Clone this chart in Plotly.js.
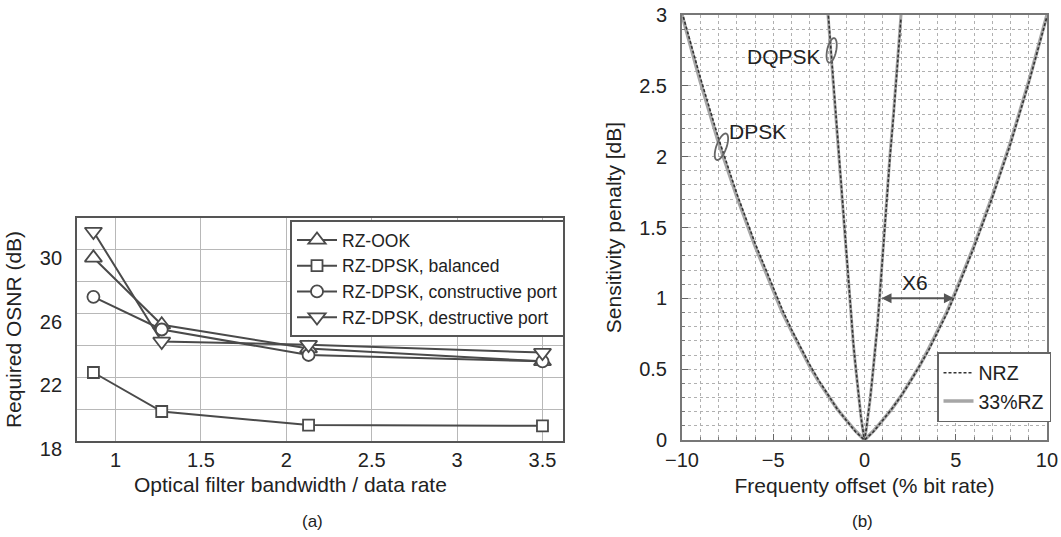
<!DOCTYPE html>
<html>
<head>
<meta charset="utf-8">
<script src="https://cdn.plot.ly/plotly-3.0.1.min.js"></script>
<style>html,body{margin:0;padding:0;background:#fff;}#chart{width:1061px;height:537px;}</style>
</head>
<body>
<div id="chart"></div>
<script>
// ---- Panel (a) data ----
const bandwidthRatio = [0.87, 1.27, 2.13, 3.5];
const rzOOK = [29.5, 25.3, 23.8, 23.0];
const rzDpskBalanced = [22.3, 19.85, 19.0, 18.95];
const rzDpskConstructive = [27.05, 25.0, 23.4, 23.0];
const rzDpskDestructive = [31.15, 24.25, 24.05, 23.55];
const seriesNamesA = ["RZ-OOK", "RZ-DPSK, balanced", "RZ-DPSK, constructive port", "RZ-DPSK, destructive port"];
const yTicksA = [18, 22, 26, 30];
const xTicksA = [1, 1.5, 2, 2.5, 3, 3.5];

// ---- Panel (b) data ----
const dpskOffset = [-10, -9, -8, -7, -6, -5, -4.5, -4, -3.5, -3, -2.5, -2, -1.5, -1, -0.5, 0, 0.5, 1, 1.5, 2, 2.5, 3, 3.5, 4, 4.5, 5, 6, 7, 8, 9, 10];
const dpskRZ = [3.0, 2.53, 2.1, 1.72, 1.37, 1.05, 0.9, 0.77, 0.64, 0.52, 0.41, 0.31, 0.22, 0.14, 0.065, 0, 0.065, 0.14, 0.22, 0.31, 0.41, 0.52, 0.64, 0.77, 0.9, 1.05, 1.37, 1.72, 2.1, 2.53, 3.0];
const dpskNRZ = [3.02, 2.56, 2.13, 1.74, 1.39, 1.07, 0.92, 0.78, 0.65, 0.53, 0.42, 0.32, 0.22, 0.14, 0.06, 0, 0.06, 0.14, 0.22, 0.31, 0.41, 0.52, 0.63, 0.76, 0.89, 1.04, 1.36, 1.71, 2.09, 2.52, 2.99];
const dqpskOffset = [-2.0, -1.8, -1.6, -1.4, -1.2, -1.0, -0.82, -0.7, -0.6, -0.5, -0.4, -0.3, -0.2, -0.1, 0, 0.1, 0.2, 0.3, 0.4, 0.5, 0.6, 0.7, 0.82, 1.0, 1.2, 1.4, 1.6, 1.8, 2.0];
const dqpskRZ = [3.0, 2.66, 2.32, 2.02, 1.7, 1.32, 1.0, 0.8, 0.66, 0.53, 0.4, 0.28, 0.17, 0.08, 0, 0.08, 0.17, 0.28, 0.4, 0.53, 0.66, 0.8, 1.0, 1.32, 1.7, 2.02, 2.32, 2.66, 3.0];
const dqpskNRZ = [3.03, 2.69, 2.35, 2.04, 1.72, 1.34, 1.01, 0.81, 0.67, 0.54, 0.41, 0.29, 0.17, 0.08, 0, 0.08, 0.17, 0.28, 0.4, 0.52, 0.65, 0.79, 0.99, 1.31, 1.69, 2.0, 2.3, 2.64, 2.98];
const seriesNamesB = ["NRZ", "33%RZ"];

const lineCol = '#4a4a4a';
const mk = (sym, size) => ({symbol: sym, size: size, color: '#ffffff', line: {color: lineCol, width: 1.8}});

const traces = [
  {x: bandwidthRatio, y: rzOOK, name: seriesNamesA[0], mode: 'lines+markers', xaxis: 'x', yaxis: 'y', line: {color: lineCol, width: 2}, marker: mk('triangle-up', 15), legend: 'legend'},
  {x: bandwidthRatio, y: rzDpskBalanced, name: seriesNamesA[1], mode: 'lines+markers', xaxis: 'x', yaxis: 'y', line: {color: lineCol, width: 2}, marker: mk('square', 11), legend: 'legend'},
  {x: bandwidthRatio, y: rzDpskConstructive, name: seriesNamesA[2], mode: 'lines+markers', xaxis: 'x', yaxis: 'y', line: {color: lineCol, width: 2}, marker: mk('circle', 12), legend: 'legend'},
  {x: bandwidthRatio, y: rzDpskDestructive, name: seriesNamesA[3], mode: 'lines+markers', xaxis: 'x', yaxis: 'y', line: {color: lineCol, width: 2}, marker: mk('triangle-down', 15), legend: 'legend'},

  {x: dpskOffset, y: dpskRZ, name: seriesNamesB[1], mode: 'lines', xaxis: 'x2', yaxis: 'y2', line: {color: '#a6a6a6', width: 3.5}, legend: 'legend2', legendrank: 2},
  {x: dqpskOffset, y: dqpskRZ, name: seriesNamesB[1], mode: 'lines', xaxis: 'x2', yaxis: 'y2', line: {color: '#a6a6a6', width: 3}, legend: 'legend2', showlegend: false},
  {x: dpskOffset, y: dpskNRZ, name: seriesNamesB[0], mode: 'lines', xaxis: 'x2', yaxis: 'y2', line: {color: '#333333', width: 1.6, dash: '3px,2px'}, legend: 'legend2', legendrank: 1},
  {x: dqpskOffset, y: dqpskNRZ, name: seriesNamesB[0], mode: 'lines', xaxis: 'x2', yaxis: 'y2', line: {color: '#333333', width: 1.6, dash: '3px,2px'}, legend: 'legend2', showlegend: false}
];

// tilted ellipse outline for label callouts (pixel-sized, converted to data units)
const pxPerX = 365 / 20, pxPerY = 425 / 3;
function ellipsePath(cx, cy, rx, ry, angDeg) {
  const a = angDeg * Math.PI / 180;
  let p = '';
  for (let i = 0; i <= 36; i++) {
    const t = i / 36 * 2 * Math.PI;
    const ex = rx * Math.cos(t), ey = ry * Math.sin(t);
    const dx = ex * Math.cos(a) - ey * Math.sin(a);
    const dy = ex * Math.sin(a) + ey * Math.cos(a);
    p += (i === 0 ? 'M' : 'L') + (cx + dx / pxPerX).toFixed(4) + ',' + (cy + dy / pxPerY).toFixed(4) + ' ';
  }
  return p + 'Z';
}

const layout = {
  width: 1061, height: 537,
  margin: {l: 0, r: 0, t: 0, b: 0},
  paper_bgcolor: '#ffffff', plot_bgcolor: '#ffffff',
  font: {family: 'Liberation Sans, Arial, sans-serif', color: '#222222', size: 20},
  xaxis: {
    domain: [0.0726, 0.5306], range: [0.774, 3.62], anchor: 'y',
    tickvals: xTicksA, ticks: '', ticklabelstandoff: 0,
    showgrid: true, gridcolor: '#b8b8b8', gridwidth: 1, zeroline: false,
    showline: true, mirror: true, linecolor: '#555555', linewidth: 2
  },
  yaxis: {
    domain: [0.1788, 0.594], range: [18, 32], anchor: 'x',
    tickvals: yTicksA, ticks: '', ticklabelstandoff: 9, ticklabelshift: 8,
    showgrid: true, gridcolor: '#b8b8b8', gridwidth: 1, zeroline: false,
    minor: {tick0: 18, dtick: 2, showgrid: true, gridcolor: '#b8b8b8', gridwidth: 1},
    showline: true, mirror: true, linecolor: '#555555', linewidth: 2,
    title: {text: 'Required OSNR (dB)', font: {size: 21}, standoff: 12}
  },
  xaxis2: {
    domain: [0.6428, 0.9868], range: [-10, 10], anchor: 'y2',
    tick0: -10, dtick: 5, ticks: 'inside', ticklen: 6, tickcolor: '#666666', ticklabelstandoff: 1,
    showgrid: true, griddash: 'dot', gridcolor: '#b0b0b0', gridwidth: 1, zeroline: false,
    minor: {dtick: 1, ticks: 'inside', ticklen: 3, tickcolor: '#777777', showgrid: true, griddash: 'dot', gridcolor: '#b0b0b0', gridwidth: 1},
    showline: true, mirror: true, linecolor: '#777777', linewidth: 2,
    title: {text: 'Frequenty offset (% bit rate)', font: {size: 21}, standoff: 8}
  },
  yaxis2: {
    domain: [0.1806, 0.9721], range: [0, 3], anchor: 'x2',
    tick0: 0, dtick: 0.5, ticks: 'inside', ticklen: 6, tickcolor: '#666666', ticklabelstandoff: 9,
    showgrid: true, griddash: 'dot', gridcolor: '#b0b0b0', gridwidth: 1, zeroline: false,
    minor: {dtick: 0.1, ticks: 'inside', ticklen: 3, tickcolor: '#777777', showgrid: true, griddash: 'dot', gridcolor: '#b0b0b0', gridwidth: 1},
    showline: true, mirror: true, linecolor: '#777777', linewidth: 2,
    title: {text: 'Sensitivity penalty [dB]', font: {size: 21}, standoff: 12}
  },
  legend: {
    x: 290 / 1061, y: 1 - 220 / 537, xanchor: 'left', yanchor: 'top',
    bgcolor: '#ffffff', bordercolor: '#555555', borderwidth: 2,
    font: {size: 17.5, color: '#222222'}, tracegroupgap: 0, itemwidth: 40
  },
  legend2: {
    x: 937 / 1061, y: 1 - 352 / 537, xanchor: 'left', yanchor: 'top',
    bgcolor: '#ffffff', bordercolor: '#666666', borderwidth: 1.5,
    font: {size: 19.5, color: '#222222'}, itemwidth: 30, tracegroupgap: 6
  },
  annotations: [
    {xref: 'paper', yref: 'paper', x: 290 / 1061, y: 1 - 484 / 537, text: 'Optical filter bandwidth / data rate', showarrow: false, font: {size: 21}, xanchor: 'center', yanchor: 'middle'},
    {xref: 'paper', yref: 'paper', x: 312 / 1061, y: 1 - 521 / 537, text: '(a)', showarrow: false, font: {size: 17}, xanchor: 'center', yanchor: 'middle'},
    {xref: 'paper', yref: 'paper', x: 862 / 1061, y: 1 - 521 / 537, text: '(b)', showarrow: false, font: {size: 17}, xanchor: 'center', yanchor: 'middle'},
    {xref: 'x2', yref: 'y2', x: -5.85, y: 2.18, text: 'DPSK', showarrow: false, font: {size: 21}, xanchor: 'center', yanchor: 'middle'},
    {xref: 'x2', yref: 'y2', x: -4.42, y: 2.71, text: 'DQPSK', showarrow: false, font: {size: 21}, xanchor: 'center', yanchor: 'middle'},
    {xref: 'x2', yref: 'y2', x: 2.74, y: 1.11, text: 'X6', showarrow: false, font: {size: 21}, xanchor: 'center', yanchor: 'middle'},
    {xref: 'x2', yref: 'y2', axref: 'x2', ayref: 'y2', x: 4.9, y: 1.0, ax: 0.85, ay: 1.0, text: '', showarrow: true,
     arrowside: 'end+start', arrowhead: 2, startarrowhead: 2, arrowsize: 1, startarrowsize: 1, arrowwidth: 2, arrowcolor: '#555555'}
  ],
  shapes: [
    {type: 'path', xref: 'x2', yref: 'y2', path: ellipsePath(-7.84, 2.07, 5, 14, -20), line: {color: '#666666', width: 1.8}},
    {type: 'path', xref: 'x2', yref: 'y2', path: ellipsePath(-1.8, 2.75, 4.5, 12.5, -12), line: {color: '#666666', width: 1.8}}
  ]
};

Plotly.newPlot('chart', traces, layout, {staticPlot: true, displayModeBar: false});
</script>
</body>
</html>
